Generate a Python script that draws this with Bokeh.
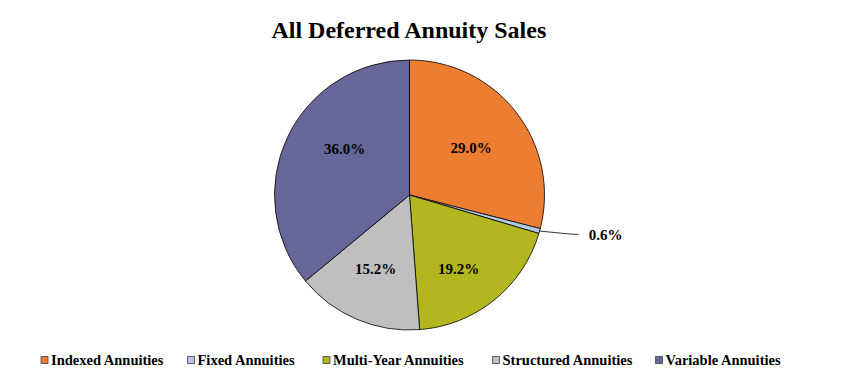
import numpy as np
from bokeh.plotting import figure
from bokeh.models import Range1d, ColumnDataSource
from bokeh.core.properties import value
from bokeh.embed import file_html
from bokeh.resources import INLINE

# ---- data ----
categories = ["Indexed Annuities", "Fixed Annuities", "Multi-Year Annuities",
              "Structured Annuities", "Variable Annuities"]
shares = [29.0, 0.6, 19.2, 15.2, 36.0]
labels = ["29.0%", "0.6%", "19.2%", "15.2%", "36.0%"]
colors = ["#ED7D31", "#B4C7E7", "#B2B71F", "#BFBFBF", "#666699"]

# ---- layout (screen pixels) ----
W, H = 847, 370
FONT = value("Liberation Serif")
cx, cy, R = 409, 194.5, 135
# label positions relative to pie center (screen px, y down)
label_off = [(61.5, -47.5), (196, 39.5), (49, 73.5), (-34, 73.5), (-65, -46.5)]
legend_sq_x = [44, 190.5, 326, 495.5, 658.5]
legend_y = 359.5

p = figure(width=W, height=H, output_backend="svg", toolbar_location=None,
           x_range=Range1d(0, W), y_range=Range1d(-H, 0),
           x_axis_location=None, y_axis_location=None, min_border=0,
           outline_line_color=None)
p.grid.visible = False

vals = np.array(shares)
frac = vals / vals.sum()
cum = np.concatenate([[0], np.cumsum(frac)])
start = np.pi / 2 - 2 * np.pi * cum[:-1]
end = np.pi / 2 - 2 * np.pi * cum[1:]

src = ColumnDataSource(dict(x=[cx] * len(vals), y=[-cy] * len(vals),
                            start=start, end=end, color=colors))
p.wedge(x="x", y="y", radius=R, start_angle="start", end_angle="end",
        direction="clock", fill_color="color", line_color="#000000",
        line_width=0.8, source=src)

# leader line for small slice
mid1 = (start[1] + end[1]) / 2
ex, ey = cx + R * np.cos(mid1), cy - R * np.sin(mid1)
p.line([ex, ex + 15, ex + 28, cx + label_off[1][0] - 27],
       [-ey, -(ey + 1.5), -(ey + 2.8), -(cy + label_off[1][1])],
       line_color="#000000", line_width=0.8)

lx = [cx + o[0] for o in label_off]
ly = [-(cy + o[1]) for o in label_off]
p.text(x=lx, y=ly, text=labels, text_font=FONT, text_font_style="bold",
       text_font_size="15px", text_align="center", text_baseline="middle",
       text_color="#000000")

# title
p.text(x=[cx], y=[-29], text=["All Deferred Annuity Sales"], text_font=FONT,
       text_font_style="bold", text_font_size="24px", text_align="center",
       text_baseline="middle", text_color="#000000")

# legend
p.rect(x=legend_sq_x, y=[-legend_y] * 5, width=7, height=7,
       fill_color=colors, line_color="#404040", line_width=0.8)
p.text(x=[x + 6.5 for x in legend_sq_x], y=[-legend_y] * 5, text=categories,
       text_font=FONT, text_font_style="bold", text_font_size="14.5px",
       text_align="left", text_baseline="middle", text_color="#000000")

open("out.html", "w").write(file_html(p, INLINE))
